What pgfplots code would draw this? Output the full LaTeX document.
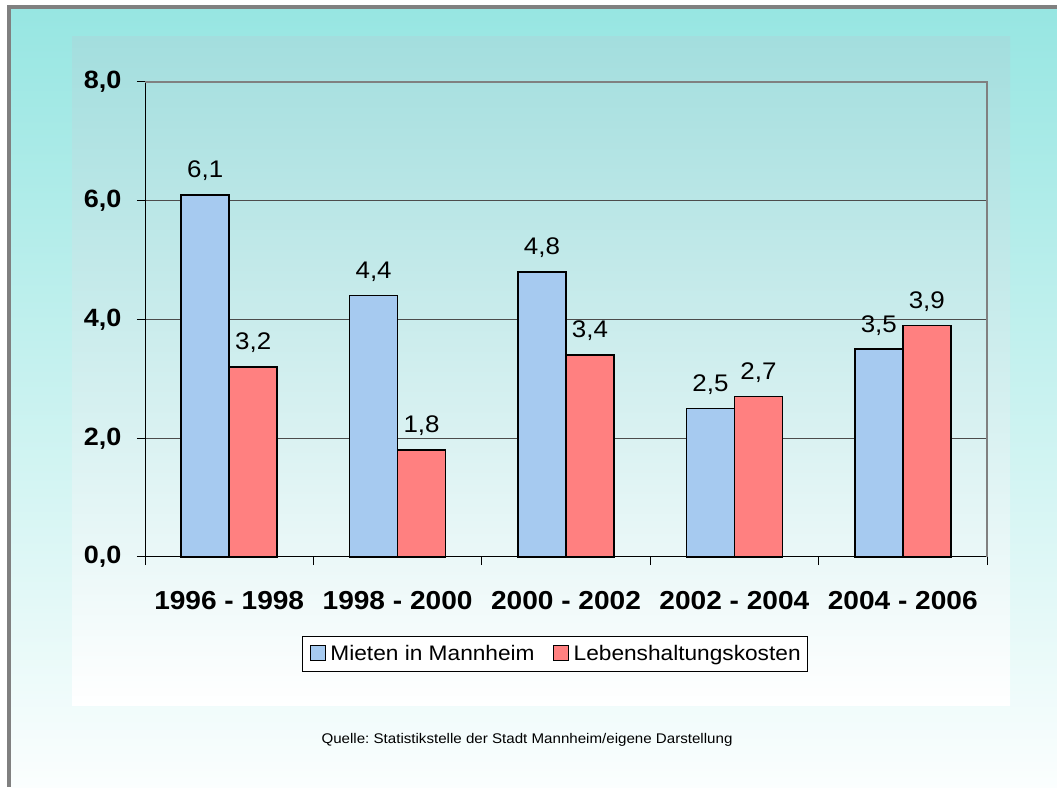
\documentclass[border=0pt]{standalone}
\usepackage{fontspec}
\setmainfont{Liberation Sans}[FakeStretch=1.08]
\usepackage{pgfplots}
\pgfplotsset{compat=1.18}
\definecolor{mieten}{RGB}{166,202,240}
\definecolor{leben}{RGB}{255,128,128}
\definecolor{bgtop}{RGB}{151,230,226}
\definecolor{areatop}{RGB}{163,222,222}
\definecolor{frame}{RGB}{128,128,128}
\frenchspacing

\begin{document}
\begin{tikzpicture}[x=1pt,y=1pt]
\useasboundingbox (0,0) rectangle (1057,787);
\fill[white] (0,0) rectangle (1057,787);
\shade[top color=bgtop, bottom color=white!96!bgtop] (11,0) rectangle (1057,778);
\fill[frame] (7,0) rectangle (11,782);
\fill[frame] (7,778) rectangle (1057,782);
% chart area
\shade[top color=areatop, bottom color=white] (72,81) rectangle (1010,750);

\begin{axis}[
    at={(145pt,230pt)}, anchor=south west,
    scale only axis, width=842pt, height=475pt,
    ymin=0, ymax=8, ytick={0,2,4,6,8},
    xmin=-0.5, xmax=4.5,
    xtick={0,1,2,3,4},
    xticklabels={1996 - 1998, 1998 - 2000, 2000 - 2002, 2002 - 2004, 2004 - 2006},
    minor xtick={-0.5,0.5,1.5,2.5,3.5,4.5},
    axis x line*=bottom, axis y line*=left,
    axis line style={-, black, line width=1pt},
    tick align=outside,
    major tick length=8pt, minor tick length=8pt,
    major x tick style={draw=none},
    tick style={black, line width=1pt},
    ymajorgrids, major grid style={black!70, line width=1pt},
    ybar=0pt, bar width=0.285,
    yticklabel style={font=\fontsize{25}{30}\selectfont\bfseries, xshift=-12pt,
        /pgf/number format/.cd, fixed, fixed zerofill, precision=1, use comma, assume math mode=true},
    xticklabel style={font=\fontsize{26}{30}\selectfont\bfseries, yshift=-23pt},
    nodes near coords,
    every node near coord/.append style={font=\fontsize{24}{28}\selectfont, anchor=south, yshift=10pt,
        /pgf/number format/.cd, fixed, fixed zerofill, precision=1, use comma, assume math mode=true},
    legend style={at={(0.487,-0.166)}, anchor=north, draw=black, fill=white, line width=1pt,
        font=\fontsize{21}{25}\selectfont, legend columns=2, inner xsep=5pt, inner ysep=7pt,
        /tikz/every even column/.append style={column sep=14pt}},
    legend image code/.code={\path[draw=none, fill=none] (0pt,0pt) -- (21pt,0pt);
        \draw[#1, line width=1pt] (3pt,-7pt) rectangle (18pt,8pt);},
    clip=false,
]
\addplot[fill=mieten, draw=black, line width=1.5pt] coordinates {
    (0,6.1) (1,4.4) (2,4.8) (3,2.5) (4,3.5)
};
\addplot[fill=leben, draw=black, line width=1.5pt] coordinates {
    (0,3.2) (1,1.8) (2,3.4) (3,2.7) (4,3.9)
};
\legend{Mieten in Mannheim, Lebenshaltungskosten}
\draw[frame, line width=1.5pt] (rel axis cs:0,1) -- (rel axis cs:1,1) -- (rel axis cs:1,0);
\end{axis}

\node[font=\fontsize{14}{17}\selectfont] at (527,47) {Quelle: Statistikstelle der Stadt Mannheim/eigene Darstellung};
\end{tikzpicture}
\end{document}
